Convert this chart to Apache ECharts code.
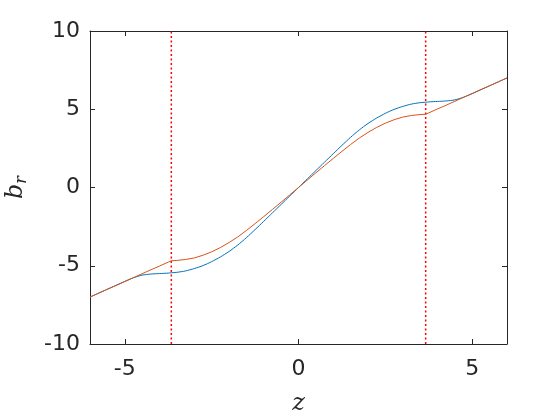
<!DOCTYPE html>
<html>
<head>
<meta charset="utf-8">
<script src="https://cdn.jsdelivr.net/npm/echarts@6/dist/echarts.min.js"></script>
<style>
  html, body { margin: 0; padding: 0; background: #fff; }
  #chart { width: 560px; height: 420px; }
</style>
</head>
<body>
<div id="chart"></div>
<script>
  // z sample points (right half, mirrored for z < 0)
  const zVals = [0, 0.25, 0.5, 0.75, 1, 1.25, 1.5, 1.75, 2, 2.25, 2.5, 2.75, 3, 3.25, 3.5, 3.66,
    3.75, 4, 4.25, 4.5, 4.75, 5, 5.25, 5.5, 5.75, 6];
  // blue curve b_r
  const blueVals = [0, 0.54, 1.08, 1.62, 2.16, 2.69, 3.21, 3.68, 4.09, 4.44, 4.74, 4.99, 5.18, 5.33, 5.42, 5.45,
    5.47, 5.5, 5.53, 5.6, 5.77, 6.0, 6.25, 6.5, 6.75, 7.0];
  // red curve
  const redVals = [0, 0.47, 0.94, 1.4, 1.86, 2.31, 2.75, 3.16, 3.52, 3.84, 4.11, 4.33, 4.5, 4.6, 4.66, 4.68,
    4.77, 5.02, 5.26, 5.51, 5.76, 6.01, 6.26, 6.5, 6.75, 7.0];
  // dotted vertical markers
  const vLines = [-3.66, 3.66];
  const xTicks = [-5, 0, 5];

  const axisColor = '#262626';

  function mirror(zs, ys) {
    const pts = [];
    for (let i = zs.length - 1; i > 0; i--) pts.push([-zs[i], -ys[i]]);
    for (let i = 0; i < zs.length; i++) pts.push([zs[i], ys[i]]);
    return pts;
  }

  const chart = echarts.init(document.getElementById('chart'), null, {renderer: 'canvas'});

  const baseX = {
    type: 'value',
    min: -6,
    max: 6,
    axisLine: {show: true, onZero: false, lineStyle: {color: axisColor, width: 1}},
    axisTick: {show: true, inside: true, length: 5, customValues: xTicks, lineStyle: {color: axisColor}},
    splitLine: {show: false}
  };
  const baseY = {
    type: 'value',
    min: -10,
    max: 10,
    interval: 5,
    axisLine: {show: true, onZero: false, lineStyle: {color: axisColor, width: 1}},
    axisTick: {show: true, inside: true, length: 5, lineStyle: {color: axisColor}},
    splitLine: {show: false}
  };

  // dotted markers as plain line series
  const markerSeries = vLines.map(v => ({
    type: 'line',
    data: [[v, -10], [v, 10]],
    showSymbol: false,
    silent: true,
    lineStyle: {color: '#FF0000', type: [2, 2.5], width: 1.5},
    z: 1
  }));

  chart.setOption({
    animation: false,
    grid: {left: 90, right: 53, top: 31, bottom: 76, containLabel: false, outerBoundsMode: 'none'},
    xAxis: [
      Object.assign({}, baseX, {
        position: 'bottom',
        name: 'z',
        nameLocation: 'middle',
        nameGap: 48,
        nameTextStyle: {fontFamily: 'DejaVu Serif', fontStyle: 'italic', fontSize: 24, color: axisColor},
        axisLabel: {show: true, customValues: xTicks, margin: 14, fontFamily: 'DejaVu Sans', fontSize: 22, color: axisColor}
      }),
      Object.assign({}, baseX, {position: 'top', axisLabel: {show: false}})
    ],
    yAxis: [
      Object.assign({}, baseY, {
        position: 'left',
        name: '{b|b}{r|r}',
        nameLocation: 'middle',
        nameGap: 60,
        nameRotate: 90,
        nameTextStyle: {
          color: axisColor,
          rich: {
            b: {fontFamily: 'DejaVu Serif', fontStyle: 'italic', fontSize: 24, color: axisColor},
            r: {fontFamily: 'DejaVu Serif', fontStyle: 'italic', fontSize: 16, color: axisColor, padding: [12, 0, 0, 0]}
          }
        },
        axisLabel: {show: true, margin: 10, fontFamily: 'DejaVu Sans', fontSize: 22, color: axisColor}
      }),
      Object.assign({}, baseY, {position: 'right', axisLabel: {show: false}})
    ],
    series: markerSeries.concat([
      {
        type: 'line',
        data: mirror(zVals, blueVals),
        showSymbol: false,
        smooth: 0.25,
        lineStyle: {color: '#0072BD', width: 1},
        z: 2
      },
      {
        type: 'line',
        data: mirror(zVals, redVals),
        showSymbol: false,
        lineStyle: {color: '#D95319', width: 1},
        z: 3
      }
    ])
  });
</script>
</body>
</html>
